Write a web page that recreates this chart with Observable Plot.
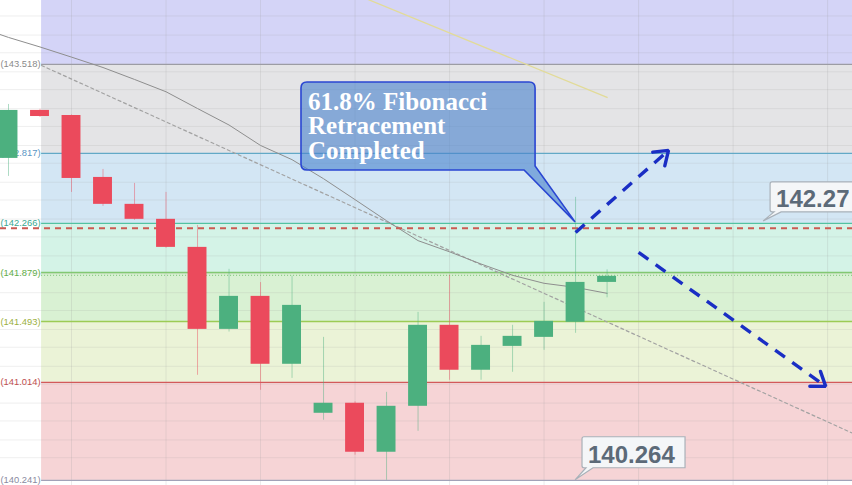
<!DOCTYPE html>
<html><head><meta charset="utf-8">
<script src="https://cdn.jsdelivr.net/npm/d3@7"></script>
<script src="https://cdn.jsdelivr.net/npm/@observablehq/plot@0.6"></script>
<style>
html,body{margin:0;padding:0;background:#fff;overflow:hidden;}
#chart svg{display:block;overflow:hidden;}
</style></head><body><div id="chart"></div>
<script>
// ---- candles (index, OHLC) ----
const candleIndex = [0,1,2,3,4,5,6,7,8,9,10,11,12,13,14,15,16,17,18,19];
const opens  = [142.778,143.156,143.116,142.628,142.416,142.298,142.077,141.431,141.691,141.156,140.770,140.849,140.463,140.825,141.463,141.109,141.297,141.368,141.487,141.801];
const highs  = [143.203,143.165,143.120,142.691,142.581,142.510,142.250,141.904,141.800,141.850,141.368,140.860,140.935,141.565,141.857,141.376,141.463,141.644,142.471,141.900];
const lows   = [142.636,143.100,142.510,142.400,142.290,142.070,141.069,141.410,140.951,141.045,140.715,140.440,140.242,140.628,141.030,141.030,141.093,141.266,141.400,141.680];
const closes = [143.156,143.108,142.620,142.416,142.298,142.077,141.431,141.691,141.156,141.620,140.849,140.463,140.825,141.463,141.109,141.305,141.376,141.494,141.801,141.849];

// ---- fibonacci levels ----
const fibLevels = [143.518,142.817,142.266,141.879,141.493,141.014,140.241];
const fibLabels = ["(143.518)","(142.817)","(142.266)","(141.879)","(141.493)","(141.014)","(140.241)"];
const fibLineColors  = ["#9c9ca4","#62a9c6","#52c2a2","#82c872","#9ccb55","#d25a5a","#a2a2b8"];
const fibLabelColors = ["#8a8a8a","#5a96c4","#3aa890","#62ad48","#9bb040","#c05050","#8a8aa0"];
const zoneTops    = [144.2,143.518,142.817,142.266,141.879,141.493,141.014];
const zoneBottoms = [143.518,142.817,142.266,141.879,141.493,141.014,140.241];
const zoneColors  = ["#d4d4f7","#e4e4e6","#d3e6f4","#d4f3e7","#d9f1d3","#ebf3d7","#f6d4d6"];
const fibStartIndex = 1.05;
const fibEndIndex = 27.5;

// ---- moving average & trend lines ----
const maIndex  = [-1,0,1,2,3,4,5,6,7,8,9,10,11,12,13,14,15,16,17,18,19];
const maValues = [143.817,143.731,143.656,143.576,143.494,143.400,143.303,143.171,143.041,142.880,142.768,142.618,142.453,142.287,142.130,142.042,141.946,141.857,141.794,141.762,141.715];
const trendIndex  = [1.05, 26.8];
const trendValues = [143.510, 140.612];
const yellowIndex  = [11.0, 19.0];
const yellowValues = [144.072, 143.258];
const resistanceLevel = 142.227;   // red dashed line
const dottedLevel = 141.857;       // dotted green line

// ---- grid ----
const gridXIndex = [2,5,8,11,14,17,20,23,26];
const gridYValues = [140.42,140.56,140.71,140.85,141.00,141.14,141.29,141.43,141.58,141.72,141.87,142.01,142.16,142.30,142.45,142.59,142.74,142.88,143.03,143.17,143.32,143.46,143.61,143.75,143.90];

// ---- blue projection arrows ----
const arrowFromIndex = [18.0, 20.0];
const arrowFromValue = [142.195, 142.038];
const arrowToIndex   = [20.95, 25.94];
const arrowToValue   = [142.841, 140.982];

// ---- annotations ----
const calloutLines = ["61.8% Fibonacci","Retracement","Completed"];
const callout = {x1: 9.30, x2: 16.73, top: 143.376, bottom: 142.683, tipX: 18.0, tipY: 142.274};
const priceTags = ["142.27","140.264"];
const tagX1 = [24.19, 18.22];
const tagX2 = [27.2, 21.49];
const tagTop = [142.589, 140.581];
const tagBottom = [142.353, 140.337];
const tagTipX = [23.97, 18.0];
const tagTipY = [142.282, 140.242];

const xDomain = [-0.254, 26.79];
const yDomain = [140.201, 144.022];

const candles = candleIndex.map((i,k)=>({i, o:opens[k], h:highs[k], l:lows[k], c:closes[k], up: closes[k]>=opens[k]}));
const zones = zoneTops.map((t,k)=>({t, b:zoneBottoms[k], color:zoneColors[k]}));
const fibs = fibLevels.map((v,k)=>({v, label:fibLabels[k], lc:fibLineColors[k], tc:fibLabelColors[k]}));
const ma = maIndex.map((i,k)=>({i, v:maValues[k]}));
const trend = trendIndex.map((i,k)=>({i, v:trendValues[k]}));
const yellow = yellowIndex.map((i,k)=>({i, v:yellowValues[k]}));
const arrows = arrowFromIndex.map((x,k)=>({x1:x, y1:arrowFromValue[k], x2:arrowToIndex[k], y2:arrowToValue[k]}));

const GREEN = "#4cb07f", RED = "#eb4a5c", BLUE = "#1a2ec4";

const chart = Plot.plot({
  width: 852, height: 485, margin: 0,
  x: {domain: xDomain, axis: null},
  y: {domain: yDomain, axis: null},
  style: {background: "#fff"},
  marks: [
    Plot.rect(zones, {x1: fibStartIndex, x2: fibEndIndex, y1: "b", y2: "t", fill: d=>d.color, clip: true}),
    Plot.ruleY(gridYValues, {stroke: "#9a9a9a", strokeOpacity: 0.16, strokeWidth: 1}),
    Plot.ruleX(gridXIndex, {stroke: "#9a9a9a", strokeOpacity: 0.2, strokeWidth: 1}),
    Plot.ruleY(fibs, {y: "v", x1: fibStartIndex, x2: fibEndIndex, stroke: d=>d.lc, strokeWidth: 1.3, clip: true}),
    Plot.ruleY([dottedLevel], {x1: fibStartIndex, x2: fibEndIndex, stroke: "#79c172", strokeWidth: 1, strokeDasharray: "1,2", clip: true}),
    Plot.text(fibs, {x: fibStartIndex, y: "v", text: "label", fill: d=>d.tc, textAnchor: "end", dx: -1, fontSize: 9.4, fontFamily: "Liberation Sans, Arial, sans-serif"}),
    Plot.line(yellow, {x: "i", y: "v", stroke: "#e2db98", strokeWidth: 1.3, clip: true}),
    Plot.line(trend, {x: "i", y: "v", stroke: "#a2a2a2", strokeWidth: 1.2, strokeDasharray: "3,3", clip: true}),
    Plot.line(ma, {x: "i", y: "v", stroke: "#8e8e8e", strokeWidth: 1, clip: true}),
    Plot.ruleY([resistanceLevel], {stroke: "#cc5a52", strokeWidth: 2, strokeDasharray: "6,5"}),
    Plot.ruleX(candles, {x: "i", y1: "l", y2: "h", stroke: d=>d.up?GREEN:RED, strokeOpacity: 0.45, strokeWidth: 1, clip: true}),
    Plot.rect(candles, {x1: d=>d.i-0.3, x2: d=>d.i+0.3, y1: d=>Math.min(d.o,d.c), y2: d=>Math.max(d.o,d.c), fill: d=>d.up?GREEN:RED, clip: true}),
    Plot.link(arrows, {x1: "x1", y1: "y1", x2: "x2", y2: "y2", stroke: BLUE, strokeWidth: 3.4, strokeDasharray: "12,9"}),
    Plot.arrow(arrows, {x1: "x1", y1: "y1", x2: "x2", y2: "y2", stroke: BLUE, strokeWidth: 3.4, headLength: 7, headAngle: 70, className: "arrowheads"})
  ]
});
document.getElementById("chart").append(chart);

// keep only the arrowheads (shafts are the dashed links)
d3.select(chart).selectAll(".arrowheads path").attr("d", function(){
  const d = this.getAttribute("d"); const k = d.indexOf("M", 1); return k > 0 ? d.slice(k) : d;
});

const X = v => chart.scale("x").apply(v), Y = v => chart.scale("y").apply(v);
const svg = d3.select(chart);

// callout bubble
{
  const x1 = X(callout.x1), x2 = X(callout.x2), yt = Y(callout.top), yb = Y(callout.bottom);
  const tx = X(callout.tipX), ty = Y(callout.tipY), r = 6;
  const p = `M${x1+r},${yt} H${x2-r} Q${x2},${yt} ${x2},${yt+r} V${yb-4} L${tx},${ty} L${x2-11},${yb} H${x1+r} Q${x1},${yb} ${x1},${yb-r} V${yt+r} Q${x1},${yt} ${x1+r},${yt} Z`;
  svg.append("path").attr("d", p).attr("fill", "rgba(72,130,205,0.6)").attr("stroke", "#2a46d2").attr("stroke-width", 1.6);
  const t = svg.append("text").attr("fill", "#fff").attr("text-anchor", "start")
    .attr("font-family", "Liberation Serif, Times New Roman, serif")
    .attr("font-weight", "bold").attr("font-size", 25);
  calloutLines.forEach((s, k) => {
    t.append("tspan").attr("x", x1 + 7).attr("y", yt + 28 + k * 24.5).attr("text-anchor", "start").text(s);
  });
}

// price tags
priceTags.forEach((s, k) => {
  const x1 = X(tagX1[k]), x2 = X(tagX2[k]), yt = Y(tagTop[k]), yb = Y(tagBottom[k]);
  const tx = X(tagTipX[k]), ty = Y(tagTipY[k]);
  const p = `M${x1+2},${yt} H${x2} V${yb} H${x1+11} L${tx},${ty} L${x1+4},${yb} H${x1+2} Q${x1},${yb} ${x1},${yb-2} V${yt+2} Q${x1},${yt} ${x1+2},${yt} Z`;
  svg.append("path").attr("d", p).attr("fill", "#f4f6f8").attr("stroke", "#a9b1b9").attr("stroke-width", 1.2);
  svg.append("text").attr("x", x1 + 6).attr("y", yb - 5).attr("fill", "#5c6a78").attr("text-anchor", "start")
    .attr("font-family", "Liberation Sans, Arial, sans-serif").attr("font-weight", "bold").attr("font-size", 24).text(s);
});
</script></body></html>
